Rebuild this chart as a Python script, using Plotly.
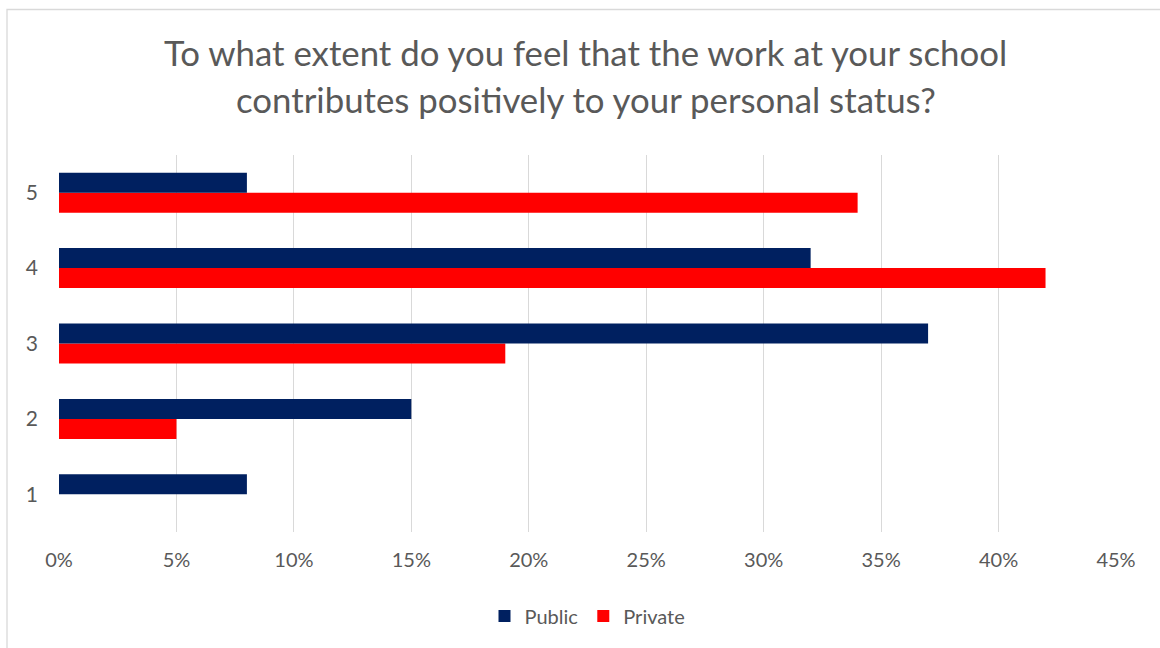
import plotly.graph_objects as go

categories = ["1", "2", "3", "4", "5"]
public = [8, 15, 37, 32, 8]
private = [0, 5, 19, 42, 34]
x_ticks = [0, 5, 10, 15, 20, 25, 30, 35, 40, 45]
x_tick_labels = [f"{v}%" for v in x_ticks]

title_lines = [
    "To what extent do you feel that the work at your school",
    "contributes positively to your personal status?",
]

NAVY = "#002060"
RED = "#FF0000"
GREY_TEXT = "#595959"
GRID = "#D9D9D9"
FONT = "Lato"

fig = go.Figure()
# Private first so that Public sits above it inside each horizontal group
fig.add_trace(go.Bar(y=categories, x=private, name="Private", orientation="h",
                     marker=dict(color=RED, line=dict(width=0)), legendrank=2))
fig.add_trace(go.Bar(y=categories, x=public, name="Public", orientation="h",
                     marker=dict(color=NAVY, line=dict(width=0)), legendrank=1))

W, H = 1160, 648
L, R, T, B = 59, 44, 155, 116
pw, ph = W - L - R, H - T - B

def px_x(x):
    return (x - L) / pw

def px_y(y):
    return (H - B - y) / ph

fig.update_layout(
    width=W, height=H,
    margin=dict(l=L, r=R, t=T, b=B, pad=0),
    paper_bgcolor="white", plot_bgcolor="white",
    barmode="group", bargap=0.47, bargroupgap=0,
    font=dict(family=FONT, color=GREY_TEXT, size=20),
    showlegend=True,
    legend=dict(orientation="h", x=0.5, xanchor="center",
                y=px_y(616), yanchor="middle",
                font=dict(size=20, color=GREY_TEXT),
                itemwidth=30, tracegroupgap=0),
    xaxis=dict(range=[0, 45], tickvals=x_ticks, ticktext=x_tick_labels,
               showgrid=True, gridcolor=GRID, gridwidth=1,
               zeroline=False, showline=False, ticks="",
               ticklabelstandoff=14, fixedrange=True),
    yaxis=dict(categoryorder="array", categoryarray=categories,
               showgrid=False, zeroline=False, showline=False, ticks="",
               ticklabelstandoff=20, tickfont=dict(size=21), fixedrange=True),
    shapes=[dict(type="rect", xref="paper", yref="paper",
                 x0=px_x(7), x1=px_x(1175), y0=px_y(665), y1=px_y(9.5),
                 line=dict(color=GRID, width=1.3), fillcolor="rgba(0,0,0,0)",
                 layer="below")],
    annotations=[
        dict(text=title_lines[0], xref="paper", yref="paper", x=0.4985,
             y=px_y(52), xanchor="center", yanchor="middle", showarrow=False,
             font=dict(size=34.8, color=GREY_TEXT, family=FONT)),
        dict(text=title_lines[1], xref="paper", yref="paper", x=0.4985,
             y=px_y(99), xanchor="center", yanchor="middle", showarrow=False,
             font=dict(size=34.8, color=GREY_TEXT, family=FONT)),
    ],
)

fig.write_html("out.html", config=dict(displayModeBar=False))
